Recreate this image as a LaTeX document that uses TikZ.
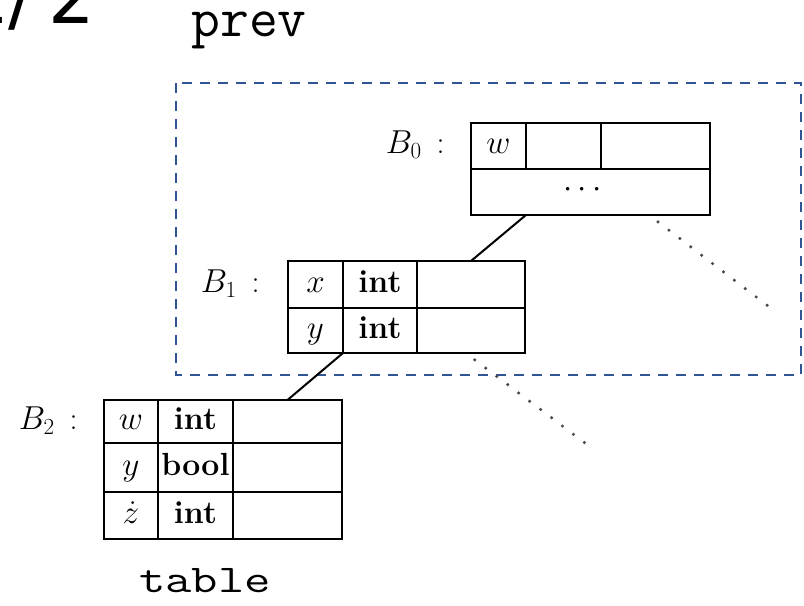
\documentclass[tikz,border=0pt]{standalone}
\usepackage{fontspec}
\usepackage{graphicx}
\usetikzlibrary{calc}
\newfontfamily\slidefont{DejaVu Sans}
\definecolor{frameblue}{HTML}{2F5597}
\definecolor{trailgray}{HTML}{4A4A4A}

% one table cell: name, x, y (top left), width, height, content
\newcommand\tcell[6]{%
  \node[cell, minimum width=#4*0.75pt, minimum height=#5*0.75pt] (#1) at (#2,#3) {#6};}

\begin{document}
\begin{tikzpicture}[x=0.75pt,y=-0.75pt,
  cell/.style={draw, line width=1.5pt, inner sep=0pt, outer sep=0pt, anchor=north west,
    text height=17pt, text depth=5pt, font=\fontsize{24}{28}\selectfont},
  blabel/.style={anchor=east, inner sep=0pt, text height=17pt, text depth=5pt,
    font=\fontsize{24}{28}\selectfont},
  link/.style={line width=1.5pt},
  trail/.style={line width=2.6pt, trailgray, line cap=round,
    dash pattern=on 0pt off 10.3pt, shorten <=8.5pt},
  scopeframe/.style={draw=frameblue, line width=2pt, dash pattern=on 7.5pt off 6pt},
  caption/.style={inner sep=0pt, anchor=base},
]
\useasboundingbox (0,0) rectangle (804,606);
\clip (0,0) rectangle (804,606);

% page number in the corner
\node[font=\slidefont\fontsize{55}{60}\selectfont, anchor=base east, inner sep=0pt]
  (pageno) at (95,24) {1/\kern11pt 2};

% the nested scope
\draw[scopeframe] (176,83) rectangle (801,375);

% B0
\tcell{b0w}{471}{123}{55}{46}{$w$}
\tcell{b0t}{526}{123}{75}{46}{}
\tcell{b0v}{601}{123}{109}{46}{}
\tcell{b0d}{471}{169}{239}{46}{}
\node[inner sep=0pt, font=\fontsize{24}{28}\selectfont] (b0dots)
  at ($(b0d.center)+(-8,-2)$) {$\cdots$};
\node[blabel] (b0lab) at ($(b0w.west)+(-26,0)$) {$B_0$ \,:};

% B1
\tcell{b1x}{288}{261}{55}{47}{$x$}
\tcell{b1xt}{343}{261}{74}{47}{\textbf{int}}
\tcell{b1xv}{417}{261}{108}{47}{}
\tcell{b1y}{288}{308}{55}{45}{$y$}
\tcell{b1yt}{343}{308}{74}{45}{\textbf{int}}
\tcell{b1yv}{417}{308}{108}{45}{}
\node[blabel] (b1lab) at ($(b1x.west)+(-28,0)$) {$B_1$ \,:};

% B2
\tcell{b2w}{104}{400}{54}{43}{$w$}
\tcell{b2wt}{158}{400}{75}{43}{\textbf{int}}
\tcell{b2wv}{233}{400}{109}{43}{}
\tcell{b2y}{104}{443}{54}{49}{$y$}
\tcell{b2yt}{158}{443}{75}{49}{\textbf{bool}}
\tcell{b2yv}{233}{443}{109}{49}{}
\tcell{b2z}{104}{492}{54}{47}{$\dot{z}$}
\tcell{b2zt}{158}{492}{75}{47}{\textbf{int}}
\tcell{b2zv}{233}{492}{109}{47}{}
\node[blabel] (b2lab) at ($(b2w.west)+(-26,0)$) {$B_2$ \,:};

% links between the tables
\draw[link] (b0w.east |- b0d.south) -- (b1xv.north);
\draw[link] (b1y.south east) -- (b2wv.north);

% dotted trails to further tables
\coordinate (b0end) at (768,306);
\coordinate (b1end) at (585,443);
\draw[trail] ($(b0d.south west)!0.745!(b0d.south east)$) -- (b0end);
\draw[trail] ($(b1y.south west)!0.75!(b1yv.south east)$) -- (b1end);

% captions
\node[caption, font=\fontsize{42}{44}\selectfont\ttfamily] (prev) at (249,37) {prev};
\node[caption, font=\fontsize{29.5}{32}\selectfont\ttfamily] (table) at (205,592)
  {\scalebox{1.3}[1]{table}};
\end{tikzpicture}
\end{document}
